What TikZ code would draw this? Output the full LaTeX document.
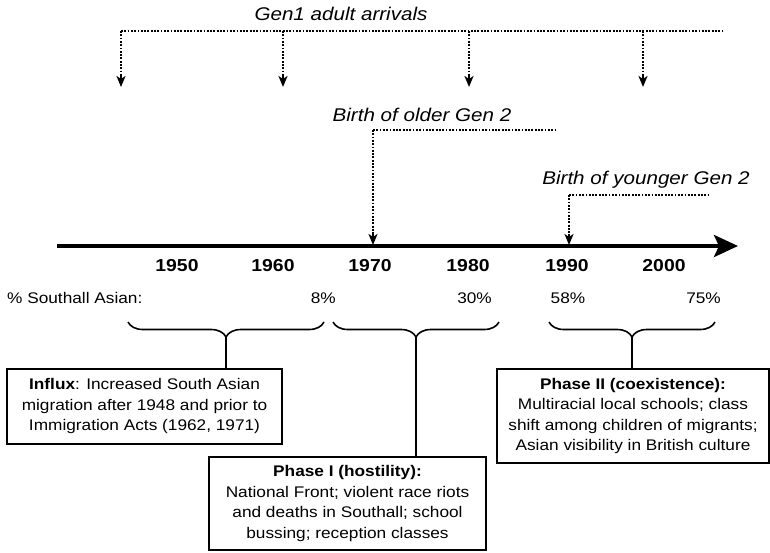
\documentclass[tikz,border=0pt]{standalone}
\usepackage{fontspec}
\setmainfont{Liberation Sans}[FakeStretch=1.12]
\usetikzlibrary{arrows.meta,decorations.pathreplacing}
\begin{document}
\begin{tikzpicture}[x=1pt,y=-1pt,
  dotline/.style={line width=2.2pt, dash pattern=on 1.8pt off 1.5pt},
  dotarrow/.style={dotline, shorten >=8pt,
    postaction={draw, solid, line width=2.2pt, shorten >=0pt, shorten <=0pt,
      -{Stealth[length=11pt,width=9pt,inset=3pt]}, dash pattern=on 0pt off 0pt}},
  yearlbl/.style={font=\fontsize{17.3}{20}\selectfont\bfseries, inner sep=0},
  pctlbl/.style={font=\fontsize{15.4}{18}\selectfont, inner sep=0},
  italbl/.style={font=\fontsize{18.4}{22}\selectfont\itshape, inner sep=0},
  infobox/.style={draw, line width=1.6pt, align=center, font=\fontsize{15.4}{20.5}\selectfont, inner sep=0},
  bracestyle/.style={decorate, decoration={brace, mirror, amplitude=15pt}, line width=1.6pt},
  stem/.style={line width=1.6pt},
  tipstyle/.style={line width=2.2pt, -{Stealth[length=11pt,width=9pt,inset=3pt]}},
]
\useasboundingbox (0,0) rectangle (770,552);

% Gen1 arrivals
\node[italbl] (g1) at (341,14) {Gen1 adult arrivals};
\coordinate (g1s) at (121,31);
\coordinate (g1e) at (722,31);
\coordinate (d2) at (283,31);
\coordinate (d3) at (469,31);
\coordinate (d4) at (643,31);
\coordinate (t1) at (121,87);
\coordinate (t2) at (283,87);
\coordinate (t3) at (469,87);
\coordinate (t4) at (643,87);
\coordinate (h1) at (121,76);
\coordinate (h2) at (283,76);
\coordinate (h3) at (469,76);
\coordinate (h4) at (643,76);
\draw[dotline] (g1s) -- (g1e);
\draw[dotline] (g1s) -- (h1);
\draw[dotline] (d2) -- (h2);
\draw[dotline] (d3) -- (h3);
\draw[dotline] (d4) -- (h4);
\draw[tipstyle] (h1) -- (t1);
\draw[tipstyle] (h2) -- (t2);
\draw[tipstyle] (h3) -- (t3);
\draw[tipstyle] (h4) -- (t4);

% Axis
\coordinate (axS) at (57,246);
\coordinate (axE) at (738,246);
\draw[line width=4pt, -{Stealth[length=24pt,width=22pt,inset=5pt]}] (axS) -- (axE);

% Older Gen 2
\node[italbl] (og) at (422,115) {Birth of older Gen 2};
\coordinate (ogL) at (373,130);
\coordinate (ogR) at (557,130);
\coordinate (ogH) at (373,234);
\coordinate (ogT) at (373,245);
\draw[dotline] (ogL) -- (ogR);
\draw[dotline] (ogL) -- (ogH);
\draw[tipstyle] (ogH) -- (ogT);

% Younger Gen 2
\node[italbl] (yg) at (646,180) {Birth of younger Gen 2};
\coordinate (ygL) at (569,195);
\coordinate (ygR) at (710,195);
\coordinate (ygH) at (569,234);
\coordinate (ygT) at (569,245);
\draw[dotline] (ygL) -- (ygR);
\draw[dotline] (ygL) -- (ygH);
\draw[tipstyle] (ygH) -- (ygT);

% Years
\node[yearlbl] (y1950) at (177,266) {1950};
\node[yearlbl] (y1960) at (273,266) {1960};
\node[yearlbl] (y1970) at (370,266) {1970};
\node[yearlbl] (y1980) at (468,266) {1980};
\node[yearlbl] (y1990) at (567,266) {1990};
\node[yearlbl] (y2000) at (664,266) {2000};

% Percentages
\node[pctlbl, anchor=west] (plbl) at (7,298) {\% Southall Asian:};
\node[pctlbl, anchor=east] (p8) at (336,298) {8\%};
\node[pctlbl, anchor=east] (p30) at (492,298) {30\%};
\node[pctlbl] (p58) at (568,298) {58\%};
\node[pctlbl, anchor=east] (p75) at (721,298) {75\%};

% Boxes
\node[infobox, minimum width=275pt, minimum height=75pt] (box1) at (144.5,406.5)
  {\textbf{Influx}: Increased South Asian\\ migration after 1948 and prior to\\ Immigration Acts (1962, 1971)};
\node[infobox, minimum width=277pt, minimum height=93pt] (box2) at (347.5,503.5)
  {\textbf{Phase I (hostility):}\\ National Front; violent race riots\\ and deaths in Southall; school\\ bussing; reception classes};
\node[infobox, minimum width=272pt, minimum height=94pt] (box3) at (633,416)
  {\textbf{Phase II (coexistence):}\\ Multiracial local schools; class\\ shift among children of migrants;\\ Asian visibility in British culture};

% Braces
\coordinate (b1L) at (128,322);
\coordinate (b1R) at (324,322);
\coordinate (b1tip) at (226,337);
\coordinate (b2L) at (333,322);
\coordinate (b2R) at (499,322);
\coordinate (b2tip) at (416,337);
\coordinate (b3L) at (549,322);
\coordinate (b3R) at (715,322);
\coordinate (b3tip) at (632,337);
\draw[bracestyle] (b1L) -- (b1R);
\draw[bracestyle] (b2L) -- (b2R);
\draw[bracestyle] (b3L) -- (b3R);
\draw[stem] (b1tip) -- (b1tip |- box1.north);
\draw[stem] (b2tip) -- (b2tip |- box2.north);
\draw[stem] (b3tip) -- (b3tip |- box3.north);
\end{tikzpicture}
\end{document}
